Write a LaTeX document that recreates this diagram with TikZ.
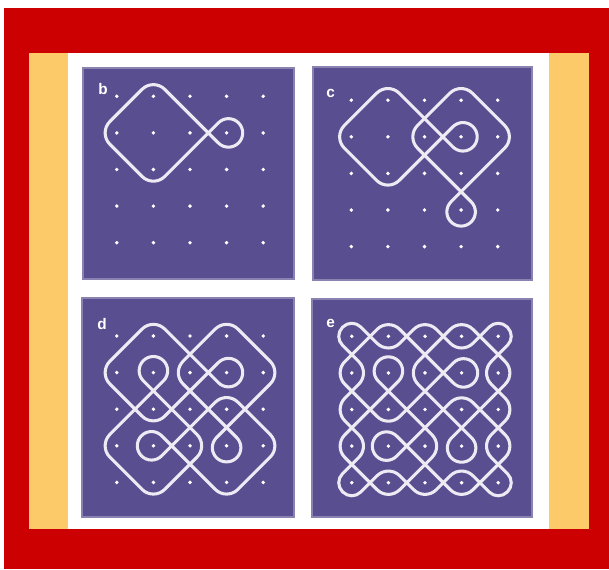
\documentclass[tikz,border=0pt]{standalone}
\usepackage{fontspec}
\setsansfont{Liberation Sans}
\definecolor{frame}{RGB}{204,0,0}
\definecolor{strip}{RGB}{253,202,106}
\definecolor{panel}{RGB}{88,78,144}
\definecolor{chalk}{RGB}{238,234,244}
\tikzset{
  kline/.style={draw=chalk, line width=2.3pt, line cap=round, line join=round, rounded corners=12pt},
  ktight/.style={kline, rounded corners=9.5pt},
  plabel/.style={text=white, font=\sffamily\bfseries\fontsize{11.5}{13}\selectfont, inner sep=0pt, anchor=base west},
  panelbox/.style={fill=panel, draw=panel!70!white, line width=1.8pt}
}
% grid of dots
\newcommand\kdots{\foreach \i in {0,...,4}{\foreach \j in {0,...,4}{\fill[white] (\i,\j) circle[radius=1.45pt];}}}
% teardrop loop round one dot, tip on the left before rotation
\newcommand\kdrop[3]{\begin{scope}[shift={(#1,#2)},rotate=#3]\draw[kline,sharp corners] (-.5,0) -- (-.226,-.274) .. controls (-.153,-.347) and (-.053,-.39) .. (.05,-.39) .. controls (.265,-.39) and (.44,-.215) .. (.44,0) .. controls (.44,.215) and (.265,.39) .. (.05,.39) .. controls (-.053,.39) and (-.153,.347) .. (-.226,.274) -- (-.5,0);\end{scope}}
% the four diamond-with-loop strands
\newcommand\kA{\draw[kline] (2.5,1) -- (1,-0.5) -- (-0.5,1) -- (1,2.5) -- (2.5,1); \kdrop{3}{1}{0}}
\newcommand\kB{\draw[kline] (3,2.5) -- (4.5,1) -- (3,-0.5) -- (1.5,1) -- (3,2.5); \kdrop{3}{3}{-90}}
\newcommand\kC{\draw[kline] (1.5,3) -- (3,4.5) -- (4.5,3) -- (3,1.5) -- (1.5,3); \kdrop{1}{3}{180}}
\newcommand\kD{\draw[kline] (1,1.5) -- (-0.5,3) -- (1,4.5) -- (2.5,3) -- (1,1.5); \kdrop{1}{1}{90}}
% one cell of the full kolam
\newcommand\kcell[3]{\begin{scope}[shift={(#1,#2)}]#3\end{scope}}
\newcommand\kTB{\draw[kline] (-.5,0)--(0,-.5)--(.5,0); \draw[kline] (.5,0)--(0,.5)--(-.5,0);}
\newcommand\kLR{\draw[kline] (0,-.5)--(.5,0)--(0,.5); \draw[kline] (0,.5)--(-.5,0)--(0,-.5);}
\newcommand\kTo{\draw[kline] (-.5,0)--(0,-.5)--(.5,0); \draw[kline] (.5,0)--(0,.5); \draw[kline] (0,.5)--(-.5,0);}
\newcommand\kBo{\draw[kline] (.5,0)--(0,.5)--(-.5,0); \draw[kline] (-.5,0)--(0,-.5); \draw[kline] (0,-.5)--(.5,0);}
\newcommand\kLo{\draw[kline] (0,.5)--(-.5,0)--(0,-.5); \draw[kline] (0,-.5)--(.5,0); \draw[kline] (.5,0)--(0,.5);}
\newcommand\kRo{\draw[kline] (0,-.5)--(.5,0)--(0,.5); \draw[kline] (0,.5)--(-.5,0); \draw[kline] (-.5,0)--(0,-.5);}
\newcommand\kXX{\draw[kline] (0,-.5)--(.5,0); \draw[kline] (.5,0)--(0,.5); \draw[kline] (0,.5)--(-.5,0); \draw[kline] (-.5,0)--(0,-.5);}
\begin{document}
\begin{tikzpicture}[x=0.75pt,y=-0.75pt]
\useasboundingbox (0,0) rectangle (609,569);
\fill[white] (0,0) rectangle (609,569);
\fill[frame] (3.5,8) rectangle (609,569);
\fill[strip] (29,53) rectangle (589,529);
\fill[white] (68,53) rectangle (549,529);
% panels
\path[panelbox] (83,68) rectangle (294,279);
\path[panelbox] (313,67) rectangle (532,280);
\path[panelbox] (82,298) rectangle (294,517);
\path[panelbox] (312,299) rectangle (532,517);
% labels
\node[plabel] (lb) at (98,94.5) {b};
\node[plabel] (lc) at (326,97) {c};
\node[plabel] (ld) at (97,329) {d};
\node[plabel] (le) at (326,327.5) {e};
% panel b
\begin{scope}[shift={(116.8,96.3)},x=27.45pt,y=-27.45pt]
  \kdots
  \kA
\end{scope}
% panel c
\begin{scope}[shift={(351.3,100.2)},x=27.45pt,y=-27.45pt]
  \kdots
  \kA \kB
\end{scope}
% panel d
\begin{scope}[shift={(116.8,336)},x=27.45pt,y=-27.45pt]
  \kdots
  \kA \kB \kC \kD
\end{scope}
% panel e
\begin{scope}[shift={(351.8,336.3)},x=27.45pt,y=-27.45pt]
  \kdots
  \kcell{0}{0}{\draw[kline] (.5,0)--(0,.5); \draw[ktight] (0,.5)--(-.5,0)--(0,-.5)--(.5,0);}
  \kcell{1}{0}{\kTB}
  \kcell{2}{0}{\kTo}
  \kcell{3}{0}{\kTB}
  \kcell{4}{0}{\draw[ktight] (-.5,0)--(0,-.5)--(.5,0)--(0,.5); \draw[kline] (0,.5)--(-.5,0);}
  \kcell{0}{1}{\kLR}
  \kdrop{1}{1}{90}
  \kcell{2}{1}{\kLo}
  \kdrop{3}{1}{0}
  \kcell{4}{1}{\kLR}
  \kcell{0}{2}{\kLo}
  \kcell{1}{2}{\kBo}
  \kcell{2}{2}{\kXX}
  \kcell{3}{2}{\kTo}
  \kcell{4}{2}{\kRo}
  \kcell{0}{3}{\kLR}
  \kdrop{1}{3}{180}
  \kcell{2}{3}{\kRo}
  \kdrop{3}{3}{-90}
  \kcell{4}{3}{\kLR}
  \kcell{0}{4}{\draw[kline] (0,-.5)--(.5,0); \draw[ktight] (.5,0)--(0,.5)--(-.5,0)--(0,-.5);}
  \kcell{1}{4}{\kTB}
  \kcell{2}{4}{\kBo}
  \kcell{3}{4}{\kTB}
  \kcell{4}{4}{\draw[ktight] (0,-.5)--(.5,0)--(0,.5)--(-.5,0); \draw[kline] (-.5,0)--(0,-.5);}
\end{scope}
\end{tikzpicture}
\end{document}
